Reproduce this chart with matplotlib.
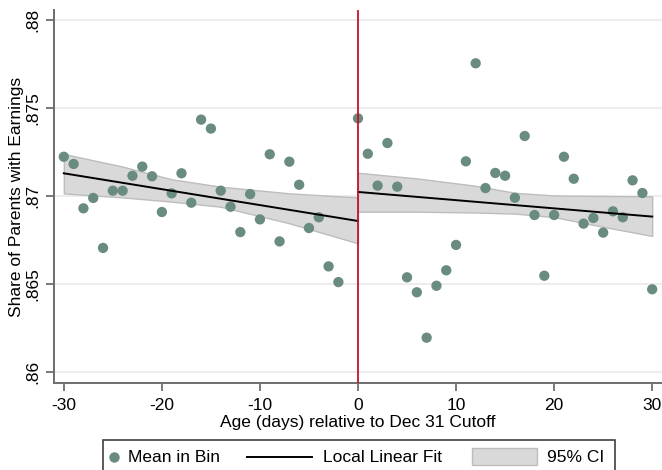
import matplotlib
matplotlib.use("Agg")
import matplotlib.pyplot as plt
from matplotlib.patches import Rectangle
from matplotlib.lines import Line2D
import numpy as np

plt.rcParams['font.family'] = ['Liberation Sans', 'DejaVu Sans']
plt.rcParams['axes.unicode_minus'] = False

# binned means (days relative to cutoff)
bin_days = [-30, -29, -28, -27, -26, -25, -24, -23, -22, -21,
            -20, -19, -18, -17, -16, -15, -14, -13, -12, -11,
            -10, -9, -8, -7, -6, -5, -4, -3, -2, 0,
            1, 2, 3, 4, 5, 6, 7, 8, 9, 10,
            11, 12, 13, 14, 15, 16, 17, 18, 19, 20,
            21, 22, 23, 24, 25, 26, 27, 28, 29, 30]
bin_means = [.87223, .87182, .86930, .86989, .86705, .87030, .87030, .87115, .87167, .87112,
             .86909, .87015, .87129, .86962, .87434, .87383, .87030, .86939, .86795, .87011,
             .86867, .87237, .86742, .87195, .87064, .86818, .86879, .86600, .86511, .87441,
             .87240, .87059, .87301, .87053, .86538, .86453, .86195, .86490, .86578, .86722,
             .87197, .87754, .87045, .87131, .87115, .86990, .87341, .86892, .86547, .86892,
             .87223, .87098, .86843, .86875, .86792, .86913, .86879, .87089, .87017, .86470]

# local linear fits
fit_left_x = [-30, 0]
fit_left_y = [.87129, .86858]
fit_right_x = [0, 30]
fit_right_y = [.87023, .86883]

# 95% CI bands
ci_left_x = [-30, -24, -19, -14, -7, 0]
ci_left_hi = [.87239, .87167, .87095, .87053, .87015, .86992]
ci_left_lo = [.87015, .86992, .86968, .86939, .86845, .86731]
ci_right_x = [0, 6, 12, 16, 20, 25, 30]
ci_right_hi = [.87132, .87100, .87058, .87018, .87003, .87000, .86998]
ci_right_lo = [.86911, .86911, .86906, .86900, .86880, .86825, .86773]

yticks = [.86, .865, .87, .875, .88]
yticklabels = ['.86', '.865', '.87', '.875', '.88']
xticks = [-30, -20, -10, 0, 10, 20, 30]

dot_col = '#6a8c7e'
band_col = '#d9d9d9'
fs = 12.5

fig = plt.figure(figsize=(6.62, 4.70), dpi=100)
ax = fig.add_axes([54/662, 1 - 383/470, 608/662, 373/470])

for cx, hi, lo in [(ci_left_x, ci_left_hi, ci_left_lo), (ci_right_x, ci_right_hi, ci_right_lo)]:
    ax.fill_between(cx, lo, hi, facecolor=band_col, edgecolor='#bdbdbd', lw=1, zorder=2)

ax.scatter(bin_days, bin_means, s=55, color=dot_col, edgecolors='none', zorder=3)
ax.plot(fit_left_x, fit_left_y, color='black', lw=1.4, zorder=4)
ax.plot(fit_right_x, fit_right_y, color='black', lw=1.4, zorder=4)
ax.axvline(0, color='#c8102e', lw=1.3, zorder=5)

ax.set_xlim(-31, 31)
ax.set_ylim(.86 - 11/17600, .88 + 10/17600)
ax.set_yticks(yticks)
ax.set_yticklabels(yticklabels, rotation=90, va='center')
ax.set_xticks(xticks)
ax.yaxis.grid(True, color='#ececec', lw=1.3)
ax.set_axisbelow(True)
for s in ['top', 'right']:
    ax.spines[s].set_visible(False)
for s in ['left', 'bottom']:
    ax.spines[s].set_color('#6e6e6e')
    ax.spines[s].set_linewidth(1.4)
ax.tick_params(axis='both', colors='#6e6e6e', labelcolor='black', labelsize=fs, length=6, width=1.3)
ax.tick_params(axis='x', pad=5)
ax.tick_params(axis='y', pad=4)
ax.set_xlabel('Age (days) relative to Dec 31 Cutoff', fontsize=fs, labelpad=1)
ax.set_ylabel('Share of Parents with Earnings', fontsize=fs, labelpad=1)

# legend box (cut off at the bottom like the original)
fy = lambda py: 1 - py / 470
fx = lambda px: px / 662
fig.add_artist(Rectangle((fx(103), -0.05), fx(512), fy(440) + 0.05, transform=fig.transFigure,
                         facecolor='white', edgecolor='#404040', lw=1.2))
ly = fy(457)
fig.add_artist(Line2D([fx(114)], [ly], marker='o', ms=7.5, color=dot_col, mec='none',
                      transform=fig.transFigure))
fig.text(fx(128), ly, 'Mean in Bin', fontsize=fs, va='center')
fig.add_artist(Line2D([fx(247), fx(312)], [ly, ly], color='black', lw=1.4, transform=fig.transFigure))
fig.text(fx(323), ly, 'Local Linear Fit', fontsize=fs, va='center')
fig.add_artist(Rectangle((fx(472), fy(465)), fx(65), fy(448) - fy(465), transform=fig.transFigure,
                         facecolor=band_col, edgecolor='#bdbdbd', lw=1))
fig.text(fx(547), ly, '95% CI', fontsize=fs, va='center')

fig.savefig('out.png', dpi=100)
